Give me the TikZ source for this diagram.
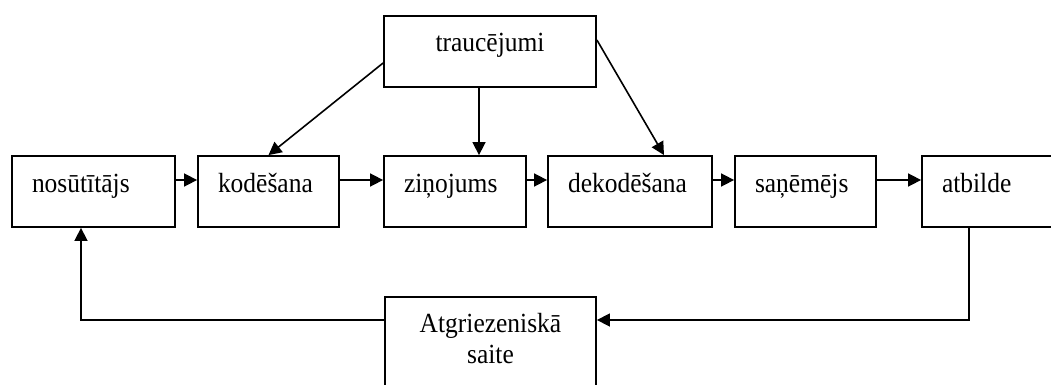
\documentclass[tikz,border=0pt]{standalone}
\usepackage{fontspec}
\setmainfont{Liberation Serif}[FakeStretch=0.92]
\usetikzlibrary{arrows.meta}

\tikzset{
  blk/.style={draw,line width=1.8pt,inner xsep=20pt,inner ysep=0pt,
    text height=36pt,text depth=35pt,align=left,
    font=\fontsize{27.7}{31}\selectfont},
  arr/.style={line width=1.6pt,-{Triangle[length=13pt,width=13pt]}}
}

\begin{document}
\begin{tikzpicture}[x=1pt,y=-1pt]
\useasboundingbox (0,0) rectangle (1051,385);
\node[blk,text width=123pt] (snd) at (93.5,191.5) {nosūtītājs};
\node[blk,text width=101pt] (kod) at (268.5,191.5) {kodēšana};
\node[blk,text width=102pt] (zin) at (455,191.5) {ziņojums};
\node[blk,text width=124pt] (dek) at (630,191.5) {dekodēšana};
\node[blk,text width=101pt] (san) at (805.5,191.5) {saņēmējs};
\node[blk,text width=100pt] (atb) at (992,191.5) {atbilde};
\node[blk,text width=172pt,align=center] (trc) at (490,51.5) {traucējumi};
\node[blk,text width=171pt,align=center,text height=35pt,text depth=65pt]
  (atg) at (490.5,347) {Atgriezeniskā\\saite};

\draw[arr] ([yshift=11.5pt]snd.east) -- ([yshift=11.5pt]kod.west);
\draw[arr] ([yshift=11.5pt]kod.east) -- ([yshift=11.5pt]zin.west);
\draw[arr] ([yshift=11.5pt]zin.east) -- ([yshift=11.5pt]dek.west);
\draw[arr] ([yshift=11.5pt]dek.east) -- ([yshift=11.5pt]san.west);
\draw[arr] ([yshift=11.5pt]san.east) -- ([yshift=11.5pt]atb.west);

\draw[arr] ([yshift=-11.5pt]trc.west) -- (kod.north);
\draw[arr] ([xshift=-11pt]trc.south) -- ([xshift=-11pt]trc.south |- zin.north);
\draw[arr] ([yshift=11.5pt]trc.east) -- ([xshift=34pt]dek.north);

\draw[arr] ([xshift=-23pt]atb.south) |- ([yshift=27pt]atg.east);
\draw[arr] ([yshift=27pt]atg.west) -| ([xshift=-12.5pt]snd.south);
\end{tikzpicture}
\end{document}
